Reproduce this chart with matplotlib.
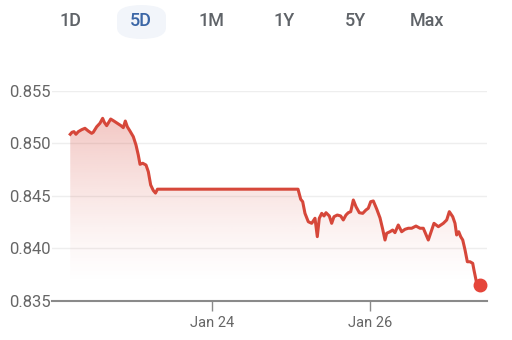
import numpy as np
import matplotlib.pyplot as plt
from matplotlib.patches import FancyBboxPatch, Polygon

plt.rcParams['font.family'] = ['Roboto', 'DejaVu Sans']

# time in days (Jan 22 .. Jan 27), price
days = [22.206, 22.228, 22.253, 22.278, 22.308, 22.351, 22.392, 22.434, 22.477, 22.497,
        22.541, 22.582, 22.616, 22.637, 22.667, 22.718, 22.759, 22.801, 22.848, 22.877,
        22.903, 22.928, 22.962, 23.004, 23.038, 23.067, 23.089, 23.123, 23.165, 23.194,
        23.224, 23.257, 23.285, 23.310, 25.089,
        25.123, 25.148, 25.177, 25.219, 25.262, 25.304, 25.333, 25.358, 25.389, 25.418,
        25.443, 25.485, 25.515, 25.544, 25.586, 25.629, 25.662, 25.696, 25.725, 25.756,
        25.789, 25.823, 25.865, 25.908, 25.949, 25.978, 26.009, 26.042, 26.085, 26.127,
        26.161, 26.190, 26.211, 26.253, 26.287, 26.316, 26.358, 26.401, 26.443, 26.485,
        26.528, 26.582, 26.633, 26.675, 26.738, 26.781, 26.810, 26.865, 26.928, 26.971,
        27.004, 27.047, 27.076, 27.097, 27.123, 27.148, 27.174, 27.203, 27.232, 27.266,
        27.300, 27.316, 27.342, 27.358, 27.371, 27.392]
price = [0.85085, 0.85104, 0.85110, 0.85085, 0.85110, 0.85129, 0.85142, 0.85116, 0.85094, 0.85104,
         0.85157, 0.85190, 0.85237, 0.85199, 0.85167, 0.85230, 0.85211, 0.85190, 0.85167, 0.85148,
         0.85211, 0.85157, 0.85116, 0.85062, 0.84983, 0.84888, 0.84799, 0.84809, 0.84792, 0.84729,
         0.84602, 0.84550, 0.84525, 0.84562, 0.84562,
         0.84466, 0.84443, 0.84332, 0.84252, 0.84237, 0.84285, 0.84110, 0.84285, 0.84332, 0.84307,
         0.84338, 0.84307, 0.84237, 0.84300, 0.84316, 0.84307, 0.84269, 0.84316, 0.84338, 0.84348,
         0.84459, 0.84395, 0.84338, 0.84332, 0.84364, 0.84380, 0.84443, 0.84450, 0.84373, 0.84288,
         0.84180, 0.84078, 0.84142, 0.84157, 0.84173, 0.84148, 0.84221, 0.84157, 0.84180, 0.84190,
         0.84190, 0.84211, 0.84190, 0.84190, 0.84078, 0.84173, 0.84237, 0.84205, 0.84237, 0.84269,
         0.84348, 0.84300, 0.84237, 0.84126, 0.84157, 0.84110, 0.84078, 0.83983, 0.83871, 0.83871,
         0.83856, 0.83792, 0.83697, 0.83633, 0.83609, 0.83650]

yticks = [0.835, 0.840, 0.845, 0.850, 0.855]
xticks = [24, 26]
xlabels = ['Jan 24', 'Jan 26']
tabs = ['1D', '5D', '1M', '1Y', '5Y', 'Max']
selected = '5D'

red = '#d6473a'
W, H = 512, 340
fig = plt.figure(figsize=(W/100, H/100), dpi=100)

# range buttons
tab_x = [70, 141, 212, 284, 355, 427]
for t, x in zip(tabs, tab_x):
    if t == selected:
        fig.patches.append(FancyBboxPatch((117/W, 1-39/H), 49/W, 34/H,
                                          boxstyle='round,pad=0,rounding_size=0.05',
                                          transform=fig.transFigure, fc='#f2f5fa', ec='none',
                                          mutation_aspect=H/W))
        fig.text(x/W, 1-21/H, t, ha='center', va='center', fontsize=13, color='#3b66a6',
                 fontweight='medium')
    else:
        fig.text(x/W, 1-21/H, t, ha='center', va='center', fontsize=13, color='#5f6368',
                 fontweight='medium')

ax = fig.add_axes([52/W, 1-300.7/H, 435/W, 210/H])
ax.set_xlim(21.975, 27.481)
ax.set_ylim(0.835, 0.855)

# gradient fill under the line
x = np.array(days)
y = np.array(price)
grad = np.linspace(0, 1, 256).reshape(-1, 1)
rgba = np.zeros((256, 1, 4))
rgba[..., 0] = 0xd6/255
rgba[..., 1] = 0x47/255
rgba[..., 2] = 0x3a/255
rgba[..., 3] = 0.3 * grad ** 1.3
img = ax.imshow(rgba, extent=[x.min(), x.max(), 0.8365, 0.8525], origin='lower',
                aspect='auto', zorder=1, interpolation='bilinear')
poly = Polygon(np.column_stack([np.r_[x, x[-1], x[0]], np.r_[y, 0.835, 0.835]]),
               closed=True, transform=ax.transData, fc='none', ec='none')
ax.add_patch(poly)
img.set_clip_path(poly)

ax.plot(x, y, color=red, lw=2.2, zorder=3, solid_joinstyle='round')
ax.plot(x[-1], y[-1], 'o', color='#e5453a', ms=9, zorder=4, clip_on=False)

ax.set_yticks(yticks)
ax.set_yticklabels(['%.3f' % v for v in yticks])
ax.set_xticks(xticks)
ax.set_xticklabels(xlabels)
for v in yticks[1:]:
    ax.axhline(v, color='#eeeeee', lw=1, zorder=0)

for s in ['top', 'right', 'left']:
    ax.spines[s].set_visible(False)
ax.spines['bottom'].set_color('#8a8a8a')
ax.spines['bottom'].set_linewidth(1.5)
ax.tick_params(axis='y', length=0, pad=1, labelsize=12, labelcolor='#666666')
ax.tick_params(axis='x', length=7, width=1, color='#8a8a8a', pad=4,
               labelsize=10.5, labelcolor='#666666')
ax.patch.set_alpha(0)

fig.savefig('out.png', dpi=100)
